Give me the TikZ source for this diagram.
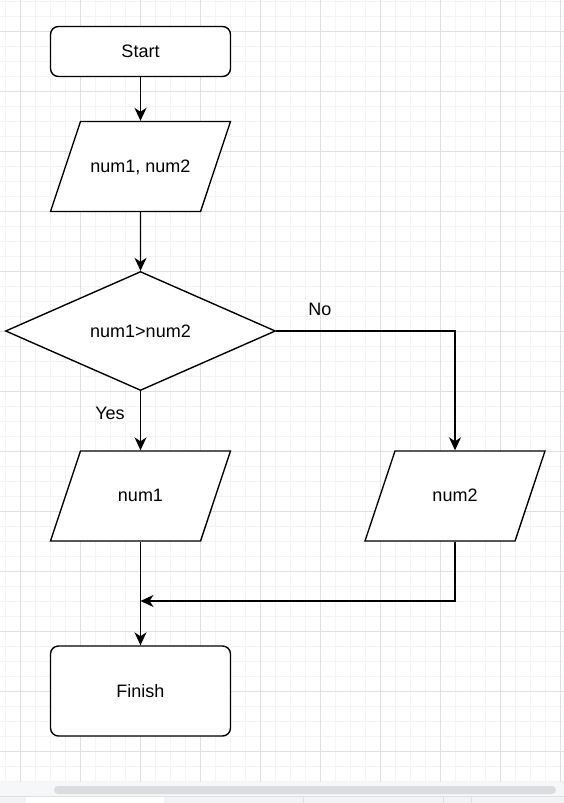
\documentclass[tikz,border=0pt]{standalone}
\usepackage{fontspec}
\setmainfont{Liberation Sans}
\usetikzlibrary{shapes, positioning, arrows.meta}

\definecolor{gridminor}{HTML}{F4F4F4}
\definecolor{gridmajor}{HTML}{E0E0E0}
\definecolor{barbg}{HTML}{F6F7F8}
\definecolor{thumbgray}{HTML}{DADCE0}
\definecolor{tabbar}{HTML}{F1F3F4}

\begin{document}
\begin{tikzpicture}[x=1pt, y=-1pt,
    every node/.style={font=\fontsize{18}{21}\selectfont},
    term/.style={draw, rectangle, rounded corners=8pt, minimum width=180pt, fill=white, inner sep=0pt, line width=1.4pt},
    io/.style={draw, trapezium, trapezium left angle=71.57, trapezium right angle=108.43, trapezium stretches body=true, text height=13pt, text depth=2pt, inner xsep=0pt, inner ysep=37.5pt, minimum width=180pt, fill=white, line width=1.4pt},
    decide/.style={draw, diamond, minimum width=270pt, minimum height=119pt, inner sep=0pt, fill=white, line width=1.4pt},
    flow/.style={line width=1.4pt, -{Stealth[length=13pt, width=12pt, inset=4pt]}}]

    \useasboundingbox (0,0) rectangle (564,803);
    \fill[white] (0,0) rectangle (564,803);

    % canvas grid
    \foreach \gx in {5,20,...,560} \draw[gridminor, line width=0.8pt] (\gx,0) -- (\gx,782);
    \foreach \gy in {1.3,16.3,...,781.3} \draw[gridminor, line width=0.8pt] (0,\gy) -- (564,\gy);
    \foreach \gx in {20,80,...,560} \draw[gridmajor, line width=0.8pt] (\gx,0) -- (\gx,782);
    \foreach \gy in {31.3,91.3,...,751.3} \draw[gridmajor, line width=0.8pt] (0,\gy) -- (564,\gy);

    % scroll bar and tabs
    \fill[barbg] (0,782) rectangle (564,796);
    \fill[thumbgray, rounded corners=4pt] (54,786) rectangle (556,794);
    \fill[tabbar] (0,797) rectangle (564,803);
    \draw[gridmajor, line width=0.8pt] (0,796.5) -- (564,796.5);
    \fill[white] (26,797) rectangle (164,803);
    \foreach \tx in {303,443,471} \draw[gridmajor, line width=0.8pt] (\tx,797) -- (\tx,803);

    \node[term, minimum height=50pt] (start) at (140.5,51.5) {Start};
    \node[io] (input) at (140.5,166.5) {num1, num2};
    \node[decide] (cmp) at (140.5,331) {num1>num2};
    \node[io] (out1) at (140.5,496) {num1};
    \node[io] (out2) at (455,496) {num2};
    \node[term, minimum height=90pt] (finish) at (140.5,691) {Finish};

    \coordinate (join) at (140.5,601);

    \draw[flow] (start) -- (input);
    \draw[flow] (input) -- (cmp);
    \draw[flow] (cmp) -- (out1);
    \draw[flow] (cmp.east) -| (out2.north);
    \draw[line width=1.4pt] (out1) -- (join);
    \draw[flow] (join) -- (finish);
    \draw[flow] (out2.south) |- (join);

    \node (yes) at (110,413) {Yes};
    \node (no) at (320,309) {No};
\end{tikzpicture}
\end{document}
